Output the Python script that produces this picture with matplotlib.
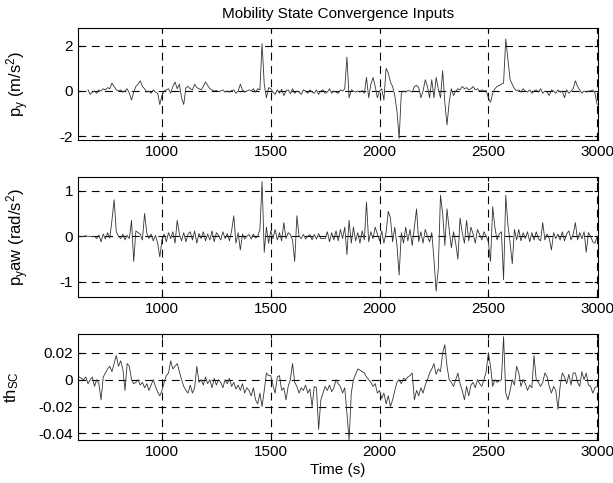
import numpy as np
import matplotlib
matplotlib.use("Agg")
import matplotlib.pyplot as plt

plt.rcParams['font.family'] = ['Liberation Sans', 'DejaVu Sans']
plt.rcParams['mathtext.default'] = 'regular'
plt.rcParams['axes.unicode_minus'] = False

nan = np.nan
# time grid (s)
time = np.arange(600, 3001, 10)

# lateral acceleration input p_y (m/s^2)
py = [nan, nan, nan, nan, nan, nan, 0.05, -0.15, -0.05, 0.0,
      -0.1, 0.05, 0.0, 0.1, 0.05, 0.15, 0.1, 0.35, 0.2, 0.05,
      0.0, 0.05, -0.05, 0.0, 0.1, -0.1, -0.4, -0.05, 0.2, 0.3,
      0.45, 0.2, 0.1, -0.05, 0.0, -0.1, 0.05, -0.05, -0.1, -0.6,
      -0.2, 0.0, 0.05, 0.1, -0.1, 0.2, 0.4, 0.1, 0.3, -0.3,
      -0.6, 0.15, 0.2, 0.1, 0.05, 0.3, 0.15, 0.1, 0.05, 0.2,
      0.4, 0.25, 0.1, 0.05, 0.0, 0.02, -0.03, 0.0, 0.05, -0.05,
      0.0, -0.05, 0.02, 0.05, -0.1, 0.0, 0.3, 0.05, -0.05, 0.0,
      0.05, 0.0, 0.1, -0.05, 0.1, 0.05, 2.1, 0.3, -0.3, 0.15,
      0.1, -0.05, -0.15, 0.05, -0.1, 0.08, -0.2, 0.0, 0.05, -0.12,
      0.1, -0.1, 0.0, -0.05, -0.15, 0.05, 0.0, -0.1, 0.05, -0.05,
      -0.1, 0.05, -0.15, 0.0, 0.05, -0.1, -0.05, 0.1, -0.1, 0.0,
      -0.05, -0.1, 0.05, 0.0, 0.1, 1.5, -0.3, 0.05, 0.0, -0.05,
      0.0, -0.05, 0.02, -0.1, 0.6, -0.3, 0.3, 0.6, 0.2, -0.3,
      0.0, 0.1, -0.4, 1.0, 0.8, 0.4, 0.2, -0.2, -0.9, -2.1,
      -0.1, 0.0, -0.05, 0.02, 0.0, -0.05, 0.2, 0.25, 0.15, -0.3,
      0.0, 0.5, 0.2, -0.3, 0.5, -0.3, 0.6, 0.1, -0.3, 0.9,
      -0.5, -1.5, -0.5, 0.1, -0.2, 0.0, 0.1, 0.05, 0.2, 0.1,
      0.15, 0.05, 0.1, 0.2, 0.05, 0.1, 0.0, 0.05, 0.0, 0.02,
      -0.3, -0.5, -0.1, 0.1, 0.2, 0.25, 0.3, 0.35, 2.3, 1.4,
      0.5, 0.3, 0.1, 0.0, 0.05, -0.05, 0.1, 0.0, -0.05, 0.05,
      -0.1, 0.0, 0.05, -0.05, 0.1, -0.1, 0.0, -0.05, -0.2, 0.05,
      0.0, -0.1, 0.05, -0.05, 0.0, -0.3, 0.05, -0.1, 0.0, 0.1,
      0.45, 0.2, 0.05, -0.1, 0.0, -0.05, 0.0, 0.0, 0.05, -0.1,
      -0.6]

# yaw acceleration input p_yaw (rad/s^2)
pyaw = [0.0, 0.01, 0.0, -0.01, 0.0, 0.01, 0.0, 0.0, -0.01, 0.0,
        -0.05, 0.03, -0.12, 0.05, -0.06, 0.08, -0.04, 0.35, 0.8, 0.1,
        0.0, -0.05, 0.05, -0.08, 0.02, -0.05, 0.35, -0.55, 0.12, 0.08,
        0.05, -0.08, 0.5, 0.08, -0.05, 0.05, -0.1, 0.02, -0.15, -0.45,
        -0.08, 0.05, -0.12, 0.08, -0.05, 0.1, -0.15, 0.35, 0.05, -0.1,
        0.08, -0.12, 0.05, 0.1, -0.08, 0.12, -0.15, 0.06, -0.05, 0.1,
        -0.1, 0.05, -0.08, 0.12, -0.12, 0.08, 0.02, -0.08, 0.1, -0.05,
        0.06, -0.1, 0.12, 0.45, -0.15, 0.08, -0.3, 0.05, -0.06, 0.0,
        0.04, -0.06, 0.05, -0.04, 0.0, 0.15, 1.2, -0.35, 0.2, -0.15,
        0.12, -0.05, 0.15, -0.08, 0.08, -0.1, 0.3, -0.05, 0.08, 0.04,
        -0.08, -0.55, 0.45, 0.0, -0.05, 0.04, -0.06, 0.0, 0.04, -0.08,
        0.04, -0.06, 0.06, -0.05, -0.05, -0.05, 0.1, -0.12, 0.08, -0.08,
        0.12, -0.1, 0.15, -0.05, 0.2, -0.4, 0.35, -0.15, 0.2, -0.1,
        0.08, -0.15, 0.12, -0.08, 0.75, -0.12, 0.1, -0.05, 0.2, 0.05,
        -0.1, 0.12, -0.15, 0.08, 0.55, 0.4, -0.12, 0.2, -0.2, -0.85,
        0.08, -0.15, 0.2, -0.1, 0.15, -0.2, 0.2, 0.6, -0.12, 0.1,
        -0.15, 0.15, 0.0, -0.12, 0.08, -0.5, -1.2, -0.7, 0.9, 0.5,
        -0.2, 0.6, 0.15, -0.25, 0.1, -0.15, -0.5, 0.4, 0.08, -0.15,
        0.35, -0.1, 0.2, 0.05, -0.15, 0.15, 0.04, -0.08, 0.1, 0.0,
        -0.12, -0.55, 0.65, 0.2, -0.08, 0.05, 0.1, -0.95, 0.9, 0.25,
        -0.15, -0.6, 0.15, -0.08, 0.15, -0.1, 0.08, -0.05, 0.1, -0.12,
        0.08, -0.08, 0.1, -0.05, -0.1, 0.3, -0.08, 0.05, -0.05, -0.3,
        0.08, -0.05, 0.05, -0.08, 0.1, -0.1, 0.05, 0.12, -0.08, 0.05,
        0.3, -0.08, 0.08, -0.05, 0.1, -0.35, 0.08, 0.0, -0.12, -0.15,
        0.0]

# steering input th_SC
thsc = [0.002, 0.002, 0.002, 0.001, 0.0, 0.002, -0.003, 0.0, 0.002, -0.005,
        0.0, -0.003, -0.015, 0.002, 0.005, 0.008, 0.01, 0.006, 0.012, 0.018,
        0.01, 0.014, 0.008, -0.008, 0.012, 0.01, 0.0, -0.003, -0.002, 0.0,
        -0.004, -0.002, -0.006, -0.003, -0.008, -0.004, 0.0, -0.005, -0.009, -0.012,
        -0.008, -0.002, 0.003, 0.005, 0.014, 0.008, 0.01, 0.012, 0.006, 0.0,
        -0.005, -0.008, -0.01, -0.004, -0.01, -0.006, 0.01, -0.002, 0.0, -0.004,
        0.002, -0.003, 0.0, -0.006, 0.001, -0.004, 0.0, -0.002, -0.006, 0.0,
        -0.003, 0.001, -0.005, -0.002, -0.007, -0.004, -0.008, -0.003, -0.01, -0.006,
        -0.008, -0.012, -0.006, -0.015, -0.018, -0.01, -0.02, -0.008, 0.005, 0.003,
        0.003, -0.004, -0.01, 0.002, 0.003, -0.008, -0.006, -0.015, -0.005, 0.0,
        0.012, -0.002, -0.005, -0.01, -0.006, -0.008, -0.004, -0.01, -0.007, -0.02,
        -0.005, -0.006, -0.037, -0.015, -0.01, -0.005, -0.008, -0.004, -0.009, -0.006,
        0.0, -0.003, -0.005, -0.01, -0.006, -0.025, -0.045, -0.01, 0.0, 0.004,
        0.008, 0.007, 0.006, 0.005, 0.002, 0.0, -0.002, -0.005, -0.003, -0.01,
        -0.008, -0.014, -0.01, -0.018, -0.012, -0.02, -0.015, -0.008, -0.002, 0.0,
        -0.003, 0.001, 0.0, 0.002, 0.003, 0.005, -0.015, -0.008, -0.012, -0.006,
        -0.01, -0.004, 0.0, 0.005, 0.008, 0.012, 0.004, 0.008, 0.006, 0.02,
        0.026, 0.01, 0.0, -0.002, -0.005, 0.0, 0.005, -0.003, -0.008, -0.015,
        -0.005, -0.012, -0.004, -0.002, -0.006, 0.0, -0.003, -0.005, 0.0, 0.006,
        0.02, 0.01, -0.005, 0.0, -0.002, -0.001, 0.0, 0.032, -0.01, -0.015,
        -0.008, 0.0, -0.004, 0.01, 0.005, -0.005, 0.0, -0.003, -0.008, -0.004,
        -0.006, 0.018, 0.0, -0.002, -0.005, -0.002, 0.005, 0.002, -0.005, -0.01,
        -0.005, -0.008, -0.022, -0.005, 0.005, 0.002, -0.003, 0.004, -0.004, 0.005,
        0.005, -0.002, -0.005, 0.006, 0.0, 0.005, -0.004, -0.005, -0.01, -0.006,
        -0.005]

xticks = [1000, 1500, 2000, 2500, 3000]
y1_ticks = [-2, 0, 2]
y1_labels = ['-2', '0', '2']
y2_ticks = [-1, 0, 1]
y2_labels = ['-1', '0', '1']
y3_ticks = [-0.04, -0.02, 0, 0.02]
y3_labels = ['-0.04', '-0.02', '0', '0.02']

W, H = 613, 483
fig = plt.figure(figsize=(W / 100, H / 100), dpi=100)

def ax_at(x0, x1, y0, y1):
    return fig.add_axes([x0 / W, 1 - y1 / H, (x1 - x0) / W, (y1 - y0) / H])

ax1 = ax_at(78, 598, 28, 140)
ax2 = ax_at(78, 598, 177, 297)
ax3 = ax_at(78, 598, 334, 440)

specs = [
    (ax1, py, (-2.17, 2.79), y1_ticks, y1_labels, r'p$_y$ (m/s$^2$)'),
    (ax2, pyaw, (-1.33, 1.3), y2_ticks, y2_labels, r'p$_y$aw (rad/s$^2$)'),
    (ax3, thsc, (-0.0449, 0.034), y3_ticks, y3_labels, r'th$_{SC}$'),
]
for ax, vals, ylim, yt, yl, lab in specs:
    ax.plot(time, vals, color='#333333', lw=0.6)
    ax.set_xlim(614, 3004)
    ax.set_ylim(*ylim)
    ax.set_xticks(xticks)
    ax.set_xticklabels([str(v) for v in xticks])
    ax.set_yticks(yt)
    ax.set_yticklabels(yl)
    ax.grid(True, color='black', linestyle=(0, (7, 5)), linewidth=0.8)
    ax.tick_params(direction='in', length=3, labelsize=11, top=True, right=True, colors='black')
    for s in ax.spines.values():
        s.set_linewidth(0.8)
    ax.set_ylabel(lab, fontsize=12)

ax1.yaxis.set_label_coords(-0.09, 0.5)
ax2.yaxis.set_label_coords(-0.09, 0.5)
ax3.yaxis.set_label_coords(-0.11, 0.5)
ax1.set_title('Mobility State Convergence Inputs', fontsize=11, pad=7)
ax3.set_xlabel('Time (s)', fontsize=11, labelpad=3)

fig.savefig('out.png', dpi=100)
